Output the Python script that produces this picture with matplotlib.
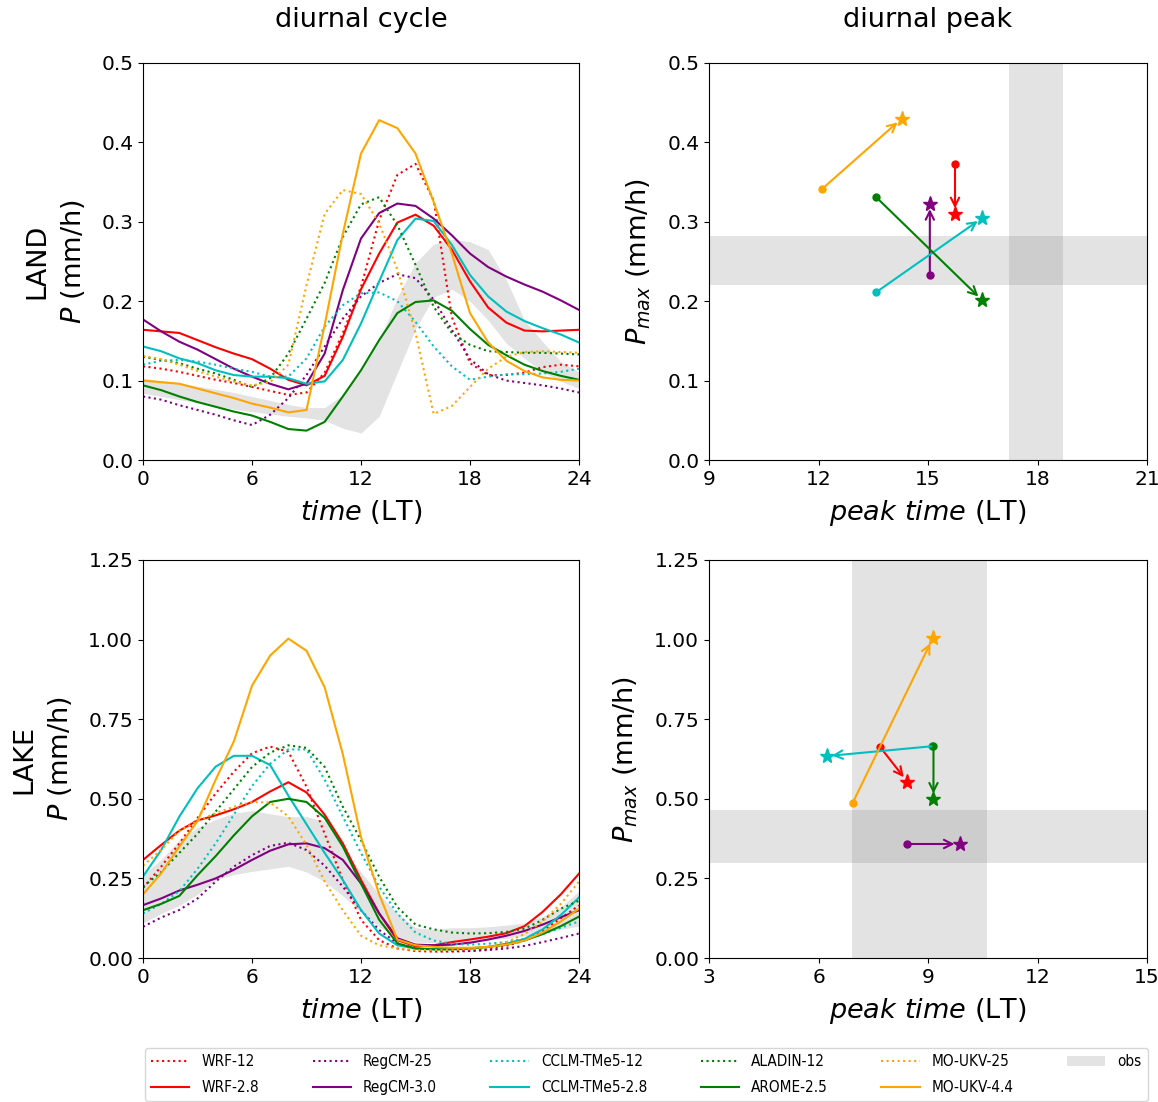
import numpy as np
import matplotlib
matplotlib.use('Agg')
import matplotlib.pyplot as plt
from matplotlib.font_manager import FontProperties

# hours of the day (LT)
hours = np.arange(0, 25)

# ---- LAND diurnal cycle (mm/h) ----
land_wrf12 = [0.118,0.115,0.111,0.106,0.101,0.097,0.092,0.087,0.082,0.085,0.11,0.16,0.218,0.302,0.359,0.373,0.327,0.18,0.122,0.107,0.107,0.11,0.117,0.12,0.118]
land_wrf28 = [0.164,0.162,0.160,0.151,0.142,0.134,0.127,0.115,0.101,0.094,0.106,0.155,0.215,0.26,0.299,0.309,0.295,0.265,0.225,0.192,0.173,0.163,0.162,0.163,0.164]
land_regcm25 = [0.080,0.076,0.069,0.063,0.057,0.050,0.044,0.057,0.078,0.107,0.143,0.178,0.206,0.223,0.234,0.229,0.202,0.164,0.127,0.108,0.100,0.097,0.094,0.090,0.085]
land_regcm30 = [0.177,0.162,0.149,0.139,0.127,0.115,0.105,0.096,0.089,0.096,0.134,0.214,0.279,0.311,0.323,0.320,0.304,0.283,0.26,0.243,0.231,0.221,0.212,0.201,0.189]
land_cclm12 = [0.120,0.125,0.126,0.124,0.120,0.115,0.111,0.105,0.105,0.128,0.168,0.195,0.210,0.211,0.200,0.174,0.143,0.118,0.101,0.105,0.108,0.108,0.109,0.111,0.115]
land_cclm28 = [0.143,0.137,0.128,0.122,0.113,0.107,0.105,0.105,0.103,0.096,0.099,0.126,0.172,0.225,0.277,0.304,0.301,0.271,0.233,0.206,0.187,0.175,0.166,0.158,0.148]
land_aladin12 = [0.130,0.126,0.122,0.115,0.109,0.101,0.092,0.103,0.134,0.178,0.223,0.281,0.322,0.331,0.296,0.246,0.193,0.160,0.145,0.137,0.136,0.135,0.135,0.134,0.133]
land_arome25 = [0.094,0.088,0.080,0.073,0.067,0.061,0.056,0.048,0.039,0.037,0.048,0.080,0.113,0.151,0.185,0.199,0.201,0.188,0.165,0.145,0.132,0.120,0.112,0.106,0.101]
land_moukv25 = [0.131,0.127,0.120,0.112,0.105,0.099,0.094,0.098,0.12,0.22,0.31,0.34,0.335,0.298,0.24,0.16,0.058,0.068,0.092,0.115,0.130,0.136,0.137,0.136,0.135]
land_moukv44 = [0.100,0.098,0.096,0.090,0.084,0.078,0.071,0.066,0.060,0.063,0.17,0.285,0.386,0.428,0.418,0.386,0.325,0.26,0.185,0.148,0.125,0.112,0.104,0.101,0.100]
land_obs_lo = [0.084,0.080,0.076,0.072,0.068,0.064,0.061,0.058,0.055,0.053,0.050,0.040,0.034,0.055,0.11,0.165,0.205,0.215,0.2,0.176,0.147,0.128,0.111,0.099,0.090]
land_obs_hi = [0.103,0.100,0.097,0.093,0.089,0.085,0.080,0.075,0.070,0.066,0.066,0.082,0.112,0.15,0.205,0.248,0.272,0.278,0.275,0.265,0.227,0.176,0.149,0.124,0.111]

# ---- LAKE diurnal cycle (mm/h) ----
lake_wrf12 = [0.22,0.287,0.36,0.44,0.517,0.585,0.643,0.664,0.648,0.538,0.39,0.245,0.12,0.056,0.03,0.022,0.02,0.02,0.022,0.028,0.038,0.055,0.085,0.125,0.165]
lake_wrf28 = [0.308,0.355,0.40,0.432,0.448,0.467,0.49,0.523,0.552,0.52,0.45,0.36,0.245,0.14,0.056,0.037,0.04,0.05,0.058,0.067,0.078,0.10,0.145,0.20,0.265]
lake_regcm25 = [0.098,0.127,0.151,0.187,0.24,0.287,0.323,0.352,0.362,0.339,0.29,0.224,0.15,0.088,0.046,0.03,0.025,0.022,0.022,0.025,0.03,0.038,0.05,0.063,0.077]
lake_regcm30 = [0.166,0.187,0.212,0.23,0.25,0.277,0.308,0.337,0.357,0.36,0.345,0.308,0.234,0.14,0.062,0.042,0.04,0.042,0.048,0.058,0.07,0.085,0.105,0.128,0.15]
lake_cclm12 = [0.14,0.17,0.21,0.28,0.36,0.45,0.54,0.61,0.655,0.655,0.56,0.444,0.33,0.224,0.14,0.08,0.055,0.045,0.042,0.045,0.05,0.06,0.075,0.095,0.115]
lake_cclm28 = [0.256,0.339,0.444,0.533,0.601,0.635,0.635,0.606,0.51,0.42,0.33,0.245,0.151,0.077,0.04,0.03,0.028,0.028,0.03,0.035,0.045,0.06,0.09,0.135,0.19]
lake_aladin12 = [0.224,0.27,0.33,0.39,0.46,0.53,0.60,0.645,0.668,0.66,0.60,0.475,0.37,0.255,0.16,0.105,0.09,0.08,0.077,0.078,0.082,0.092,0.12,0.155,0.18]
lake_arome25 = [0.15,0.17,0.195,0.26,0.32,0.385,0.445,0.49,0.50,0.49,0.44,0.35,0.234,0.12,0.046,0.03,0.027,0.027,0.03,0.035,0.042,0.055,0.075,0.10,0.13]
lake_moukv25 = [0.29,0.34,0.40,0.43,0.455,0.475,0.49,0.488,0.445,0.355,0.24,0.15,0.07,0.04,0.03,0.025,0.025,0.025,0.028,0.035,0.05,0.075,0.115,0.17,0.24]
lake_moukv44 = [0.20,0.266,0.35,0.43,0.56,0.68,0.855,0.95,1.003,0.965,0.85,0.64,0.38,0.20,0.058,0.04,0.035,0.032,0.032,0.035,0.042,0.055,0.08,0.115,0.155]
lake_obs_lo = [0.11,0.14,0.165,0.2,0.245,0.262,0.272,0.28,0.288,0.27,0.24,0.195,0.145,0.098,0.065,0.05,0.048,0.05,0.052,0.056,0.062,0.07,0.08,0.09,0.10]
lake_obs_hi = [0.26,0.31,0.37,0.41,0.435,0.455,0.463,0.453,0.444,0.444,0.43,0.345,0.27,0.20,0.14,0.095,0.09,0.095,0.095,0.098,0.103,0.11,0.13,0.16,0.21]

# ---- diurnal peak (time LT, value mm/h), order: WRF, RegCM, CCLM, ALADIN/AROME, MO-UKV ----
land_peak_t_coarse = [15.74, 15.05, 13.57, 13.58, 12.09]
land_peak_p_coarse = [0.373, 0.233, 0.211, 0.331, 0.341]
land_peak_t_fine = [15.74, 15.05, 16.49, 16.49, 14.28]
land_peak_p_fine = [0.310, 0.323, 0.305, 0.201, 0.430]
land_obs_t = [17.23, 18.69]
land_obs_p = [0.221, 0.2825]

lake_peak_t_coarse = [7.68, 8.42, 9.10, 9.15, 6.94]
lake_peak_p_coarse = [0.664, 0.358, 0.665, 0.667, 0.488]
lake_peak_t_fine = [8.43, 9.88, 6.22, 9.15, 9.13]
lake_peak_p_fine = [0.554, 0.358, 0.634, 0.499, 1.004]
lake_obs_t = [6.93, 10.61]
lake_obs_p = [0.299, 0.465]

colors = ['red', 'purple', 'c', 'green', 'orange']
coarse_names = ['WRF-12', 'RegCM-25', 'CCLM-TMe5-12', 'ALADIN-12', 'MO-UKV-25']
fine_names = ['WRF-2.8', 'RegCM-3.0', 'CCLM-TMe5-2.8', 'AROME-2.5', 'MO-UKV-4.4']

land_coarse = [land_wrf12, land_regcm25, land_cclm12, land_aladin12, land_moukv25]
land_fine = [land_wrf28, land_regcm30, land_cclm28, land_arome25, land_moukv44]
lake_coarse = [lake_wrf12, lake_regcm25, lake_cclm12, lake_aladin12, lake_moukv25]
lake_fine = [lake_wrf28, lake_regcm30, lake_cclm28, lake_arome25, lake_moukv44]

fig = plt.figure(figsize=(11.58, 11.02), dpi=100)
W, H = 1158., 1102.
ax_tl = fig.add_axes([143/W, 1-460/H, 436/W, 397/H])
ax_tr = fig.add_axes([709/W, 1-460/H, 438/W, 397/H])
ax_bl = fig.add_axes([143/W, 1-958/H, 436/W, 398/H])
ax_br = fig.add_axes([709/W, 1-958/H, 438/W, 398/H])

band_col = 'grey'
band_alpha = 0.22
lbl = 19.5
tks = 14.5


def cycle_panel(ax, coarse, fine, lo, hi, ymax, yticks, region):
    handles = []
    for c, f, col, nc, nf in zip(coarse, fine, colors, coarse_names, fine_names):
        h1, = ax.plot(hours, c, ls=':', color=col, lw=1.5, label=nc)
        h2, = ax.plot(hours, f, ls='-', color=col, lw=1.5, label=nf)
        handles += [h1, h2]
    hobs = ax.fill_between(hours, lo, hi, color=band_col, alpha=band_alpha, lw=0, label='obs')
    handles.append(hobs)
    ax.set_xlim(0, 24)
    ax.set_ylim(0, ymax)
    ax.set_xticks([0, 6, 12, 18, 24])
    ax.set_yticks(yticks)
    ax.tick_params(labelsize=tks)
    ax.set_xlabel('$time$ (LT)', fontsize=lbl, labelpad=7)
    ax.set_ylabel(region + '\n$P$ (mm/h)', fontsize=lbl, labelpad=10, linespacing=1.4)
    return handles


def peak_panel(ax, tc, pc, tf, pf, obs_t, obs_p, xlim, ymax, yticks):
    ax.axvspan(obs_t[0], obs_t[1], color=band_col, alpha=band_alpha, lw=0)
    ax.axhspan(obs_p[0], obs_p[1], color=band_col, alpha=band_alpha, lw=0)
    for i in range(len(colors)):
        col = colors[i]
        ax.annotate('', xy=(tf[i], pf[i]), xytext=(tc[i], pc[i]),
                    arrowprops=dict(arrowstyle='->', color=col, lw=1.5,
                                    shrinkA=0, shrinkB=4, mutation_scale=15))
        ax.plot(tc[i], pc[i], 'o', color=col, ms=5)
        ax.plot(tf[i], pf[i], '*', color=col, ms=11)
    ax.set_xlim(xlim)
    ax.set_ylim(0, ymax)
    ax.set_xticks(np.arange(xlim[0], xlim[1] + 1, 3))
    ax.set_yticks(yticks)
    ax.tick_params(labelsize=tks)
    ax.set_xlabel('$peak\\ time$ (LT)', fontsize=lbl, labelpad=7)
    ax.set_ylabel('$P_{max}$ (mm/h)', fontsize=lbl, labelpad=10)


handles = cycle_panel(ax_tl, land_coarse, land_fine, land_obs_lo, land_obs_hi,
                      0.5, [0, 0.1, 0.2, 0.3, 0.4, 0.5], 'LAND')
cycle_panel(ax_bl, lake_coarse, lake_fine, lake_obs_lo, lake_obs_hi,
            1.25, [0, 0.25, 0.5, 0.75, 1.0, 1.25], 'LAKE')
ax_bl.yaxis.set_major_formatter(matplotlib.ticker.FormatStrFormatter('%.2f'))

peak_panel(ax_tr, land_peak_t_coarse, land_peak_p_coarse, land_peak_t_fine, land_peak_p_fine,
           land_obs_t, land_obs_p, (9, 21), 0.5, [0, 0.1, 0.2, 0.3, 0.4, 0.5])
peak_panel(ax_br, lake_peak_t_coarse, lake_peak_p_coarse, lake_peak_t_fine, lake_peak_p_fine,
           lake_obs_t, lake_obs_p, (3, 15), 1.25, [0, 0.25, 0.5, 0.75, 1.0, 1.25])
ax_br.yaxis.set_major_formatter(matplotlib.ticker.FormatStrFormatter('%.2f'))

# column titles
fig.text((143 + 436/2)/W, 1-20/H, 'diurnal cycle', ha='center', va='center', fontsize=19.5)
fig.text((709 + 438/2)/W, 1-20/H, 'diurnal peak', ha='center', va='center', fontsize=19.5)

# legend text in the original is narrow
leg_font = FontProperties(family='DejaVu Sans', stretch='condensed', size=11)
labels = [h.get_label() for h in handles]
fig.legend(handles, labels, ncol=6, loc='lower left', mode='expand',
           bbox_to_anchor=(145/W, 1/H, 1003/W, 0.05), prop=leg_font,
           handlelength=2.5, handletextpad=0.8, labelspacing=0.7, borderaxespad=0)

fig.savefig('out.png', dpi=100)
